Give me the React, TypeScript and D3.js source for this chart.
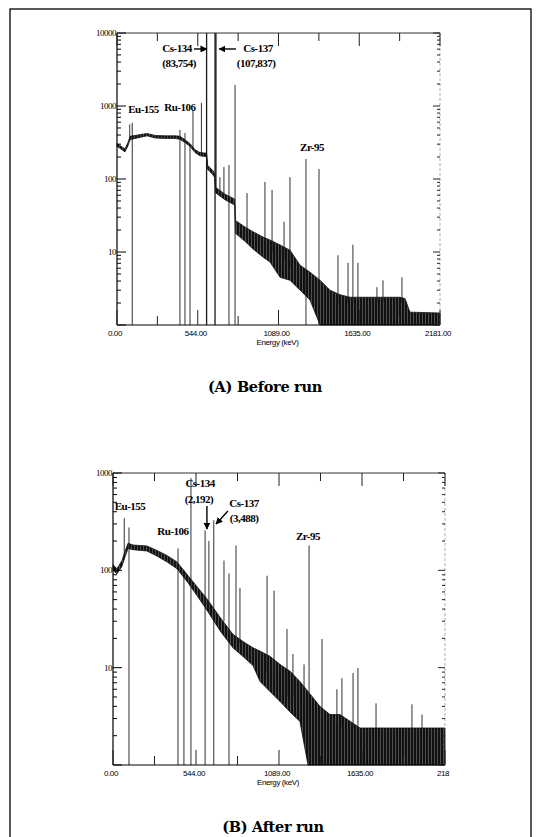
import React from "react";
import * as d3 from "d3";

// ---------- DATA ----------
const E_MAX = 2181;
const xTickEnergies = [0, 272.6, 545.3, 817.9, 1090.5, 1363.1, 1635.8, 1908.4, 2181];
const xLabelEnergies = [0, 545.3, 1090.5, 1635.8, 2181];
const xLabelsA = ["0.00", "544.00", "1089.00", "1635.00", "2181.00"];
const xLabelsB = ["0.00", "544.00", "1089.00", "1635.00", "218"];
const yLabelsA = [10, 100, 1000, 10000];
const yLabelsB = [10, 100, 1000];

// spectrum band: [energy keV, low count, high count]
const bandA: [number, number, number][] = [
  [0, 280, 305], [27, 258, 282], [54, 235, 258], [74, 285, 315], [88, 345, 385],
  [122, 360, 395], [203, 390, 420], [257, 365, 395], [324, 360, 390], [392, 360, 390],
  [425, 350, 385], [459, 315, 345], [493, 280, 305], [527, 230, 252], [560, 208, 230],
  [605, 202, 226], [612, 136, 154], [648, 114, 130], [660, 104, 116], [665, 65, 77],
  [729, 52, 62], [795, 44, 53], [800, 18, 27], [864, 14, 22], [918, 11, 19],
  [986, 8.5, 16], [1033, 7.3, 14.6], [1101, 4.5, 12.5], [1168, 4.1, 10.6],
  [1236, 3.0, 6.6], [1303, 2.2, 5.3], [1371, 1, 4.1], [1438, 1, 3.0], [1506, 1, 2.6],
  [1573, 1, 2.4], [1911, 1, 2.4], [1945, 1, 2.3], [1978, 1, 1.5], [2181, 1, 1.46],
];
const bandB: [number, number, number][] = [
  [0, 100, 114], [26, 92, 104], [59, 110, 126], [79, 138, 157], [99, 168, 190],
  [131, 163, 182], [223, 158, 178], [289, 140, 160], [355, 122, 142], [420, 104, 122],
  [486, 77, 91], [552, 55, 68], [617, 39, 51], [703, 24, 33], [788, 16, 22],
  [867, 12.5, 18], [920, 10.5, 16], [966, 7.2, 14.8], [1031, 5.7, 13.1],
  [1097, 4.5, 10.8], [1163, 3.5, 9.2], [1228, 2.8, 7.2], [1281, 1, 5.7],
  [1360, 1, 4.0], [1425, 1, 3.3], [1491, 1, 3.3], [1623, 1, 2.4], [2181, 1, 2.4],
];

// peak lines: [energy keV, base count, top count]
const peaksA: [number, number, number][] = [
  [86, 340, 560], [103, 1, 590], [425, 1, 470], [459, 1, 427], [493, 1, 290],
  [513, 260, 880], [570, 215, 1100], [605, 1, 83754], [662, 1, 107837], [668, 70, 20000],
  [695, 65, 106], [722, 60, 146], [756, 1, 155], [797, 1, 1940], [878, 17, 64],
  [999, 11, 91], [1047, 10, 71], [1128, 8, 26], [1168, 6, 106], [1276, 1, 188],
  [1364, 1.5, 137], [1492, 2, 9], [1560, 2, 7.1], [1593, 2, 12.6], [1627, 2, 7.1],
  [1755, 2, 3.3], [1796, 2, 4.1], [1924, 2, 4.5],
];
const peaksB: [number, number, number][] = [
  [74, 130, 343], [105, 1, 276], [427, 1, 168], [466, 1, 100], [512, 1, 887],
  [605, 1, 257], [630, 40, 200], [662, 1, 327], [729, 30, 126], [762, 1, 93],
  [808, 20, 180], [834, 18, 66], [1012, 9, 88], [1058, 8, 62], [1143, 5, 25],
  [1182, 5, 13.8], [1255, 4, 10.8], [1288, 1, 180], [1373, 3, 19.7], [1471, 2.5, 6],
  [1504, 2.5, 7.8], [1577, 2.4, 8.8], [1609, 2.4, 9.9], [1728, 2.4, 4.3],
  [1964, 2.4, 4.2], [2030, 2.4, 3.3],
];

// annotations: [text, energy, count] (data coordinates)
const notesA: [string, number, number][] = [
  ["Cs-134", 405, 5490], ["(83,754)", 419, 3420], ["Cs-137", 952, 5490],
  ["(107,837)", 939, 3420], ["Eu-155", 179, 800], ["Ru-106", 425, 855], ["Zr-95", 1317, 242],
];
const arrowsA: [number, number, number, number][] = [
  [520, 6040, 606, 6040], [803, 6040, 690, 6040],
];
const notesB: [string, number, number][] = [
  ["Eu-155", 112, 417], ["Ru-106", 394, 231], ["Cs-134", 572, 718], ["(2,192)", 565, 492],
  ["Cs-137", 861, 448], ["(3,488)", 861, 314], ["Zr-95", 1281, 205],
];
const arrowsB: [number, number, number, number][] = [
  [617, 458, 617, 266], [755, 407, 677, 299],
];

// ---------- PANEL ----------
type PanelProps = {
  left: number; top: number; right: number; bottom: number; yMax: number;
  band: [number, number, number][]; peaks: [number, number, number][];
  yLabels: number[]; xLabels: string[]; notes: [string, number, number][];
  arrows: [number, number, number, number][]; title: string; titleX: number; titleY: number;
  id: string;
};

function Panel(p: PanelProps) {
  const x = d3.scaleLinear().domain([0, E_MAX]).range([p.left, p.right]);
  const y = d3.scaleLog().domain([1, p.yMax]).range([p.bottom, p.top]).clamp(true);
  const area = d3
    .area<[number, number, number]>()
    .x((d) => x(d[0]))
    .y0((d) => y(d[1]))
    .y1((d) => y(d[2]));
  const decades = Math.round(Math.log10(p.yMax));
  const minor: { v: number; major: boolean }[] = [];
  for (let k = 0; k < decades; k++)
    for (let m = 1; m <= 9; m++) minor.push({ v: m * Math.pow(10, k), major: m === 1 });
  minor.push({ v: p.yMax, major: true });

  return (
    <g>
      <defs>
        <pattern id={`tex-${p.id}`} width="3" height="5" patternUnits="userSpaceOnUse">
          <rect width="3" height="5" fill="#111" />
          <rect x="2" y="0" width="0.7" height="5" fill="#6a6a6a" />
        </pattern>
        <marker id={`arrow-${p.id}`} viewBox="0 0 10 10" refX="9" refY="5" markerWidth="5" markerHeight="5" orient="auto">
          <path d="M0,0 L10,5 L0,10 z" fill="#000" />
        </marker>
      </defs>
      {/* spectrum */}
      <path d={area(p.band) || ""} fill={`url(#tex-${p.id})`} stroke="#111" strokeWidth={0.8} />
      {p.peaks.map((d, i) => (
        <line
          key={i}
          x1={x(d[0])}
          x2={x(d[0])}
          y1={y(d[1])}
          y2={y(d[2])}
          stroke="#1a1a1a"
          strokeWidth={d[2] > 5000 ? 1.3 : 0.9}
        />
      ))}
      {/* axes frame */}
      <line x1={p.left} x2={p.left} y1={p.top} y2={p.bottom} stroke="#000" strokeWidth={1.2} />
      <line x1={p.left} x2={p.right} y1={p.bottom} y2={p.bottom} stroke="#000" strokeWidth={1.2} />
      <line x1={p.left} x2={p.right} y1={p.top} y2={p.top} stroke="#333" strokeWidth={1} />
      <line x1={p.right} x2={p.right} y1={p.top} y2={p.bottom} stroke="#777" strokeWidth={0.6} strokeDasharray="3 2" />
      {/* y ticks */}
      {minor.map((t, i) => (
        <g key={i}>
          <line x1={p.left} x2={p.left + (t.major ? 9 : 4)} y1={y(t.v)} y2={y(t.v)} stroke="#000" strokeWidth={1} />
          <line x1={p.right} x2={p.right - (t.major ? 7 : 3)} y1={y(t.v)} y2={y(t.v)} stroke="#222" strokeWidth={1} />
        </g>
      ))}
      {p.yLabels.map((v) => (
        <text
          key={v}
          x={p.left - 1}
          y={y(v)}
          dy="0.33em"
          textAnchor="end"
          fontFamily="Liberation Serif"
          fontSize={9}
          letterSpacing={-0.5}
        >
          {v}
        </text>
      ))}
      {/* x ticks */}
      {xTickEnergies.map((e, i) => (
        <g key={i}>
          <line x1={x(e)} x2={x(e)} y1={p.top} y2={p.top + (i % 2 === 0 ? 13 : 8)} stroke="#222" strokeWidth={1} />
          <line x1={x(e)} x2={x(e)} y1={p.bottom} y2={p.bottom - (i % 2 === 0 ? 15 : 9)} stroke="#222" strokeWidth={1} />
        </g>
      ))}
      {xLabelEnergies.map((e, i) => (
        <text
          key={i}
          x={x(e) - 2}
          y={p.bottom + 11}
          textAnchor="middle"
          fontFamily="Liberation Sans"
          fontSize={8}
          letterSpacing={-0.4}
        >
          {p.xLabels[i]}
        </text>
      ))}
      <text
        x={(p.left + p.right) / 2 - 1}
        y={p.bottom + 20}
        textAnchor="middle"
        fontFamily="Liberation Sans"
        fontSize={8}
        letterSpacing={-0.4}
      >
        Energy (keV)
      </text>
      {/* annotations */}
      {p.notes.map((n, i) => (
        <text
          key={i}
          x={x(n[1])}
          y={y(n[2])}
          textAnchor="middle"
          fontFamily="Liberation Serif"
          fontWeight="bold"
          fontSize={11}
          letterSpacing={-0.5}
        >
          {n[0]}
        </text>
      ))}
      {p.arrows.map((a, i) => (
        <line
          key={i}
          x1={x(a[0])}
          y1={y(a[1])}
          x2={x(a[2])}
          y2={y(a[3])}
          stroke="#000"
          strokeWidth={1.4}
          markerEnd={`url(#arrow-${p.id})`}
        />
      ))}
      <text
        x={p.titleX}
        y={p.titleY}
        textAnchor="middle"
        fontFamily="DejaVu Serif"
        fontWeight="bold"
        fontSize={14.5}
        letterSpacing={-0.3}
      >
        {p.title}
      </text>
    </g>
  );
}

export default function App() {
  return (
    <svg
      width={545}
      height={837}
      style={{ position: "absolute", left: 0, top: 0, display: "block", background: "#fff" }}
    >
      <rect x={0} y={0} width={545} height={837} fill="#fff" />
      <rect x={10} y={9} width={521} height={840} fill="none" stroke="#000" strokeWidth={1.3} />
      <Panel
        id="a"
        left={117}
        top={33}
        right={440}
        bottom={325}
        yMax={10000}
        band={bandA}
        peaks={peaksA}
        yLabels={yLabelsA}
        xLabels={xLabelsA}
        notes={notesA}
        arrows={arrowsA}
        title="(A) Before run"
        titleX={265}
        titleY={392}
      />
      <Panel
        id="b"
        left={113}
        top={473}
        right={445}
        bottom={765}
        yMax={1000}
        band={bandB}
        peaks={peaksB}
        yLabels={yLabelsB}
        xLabels={xLabelsB}
        notes={notesB}
        arrows={arrowsB}
        title="(B) After run"
        titleX={273}
        titleY={832}
      />
    </svg>
  );
}
